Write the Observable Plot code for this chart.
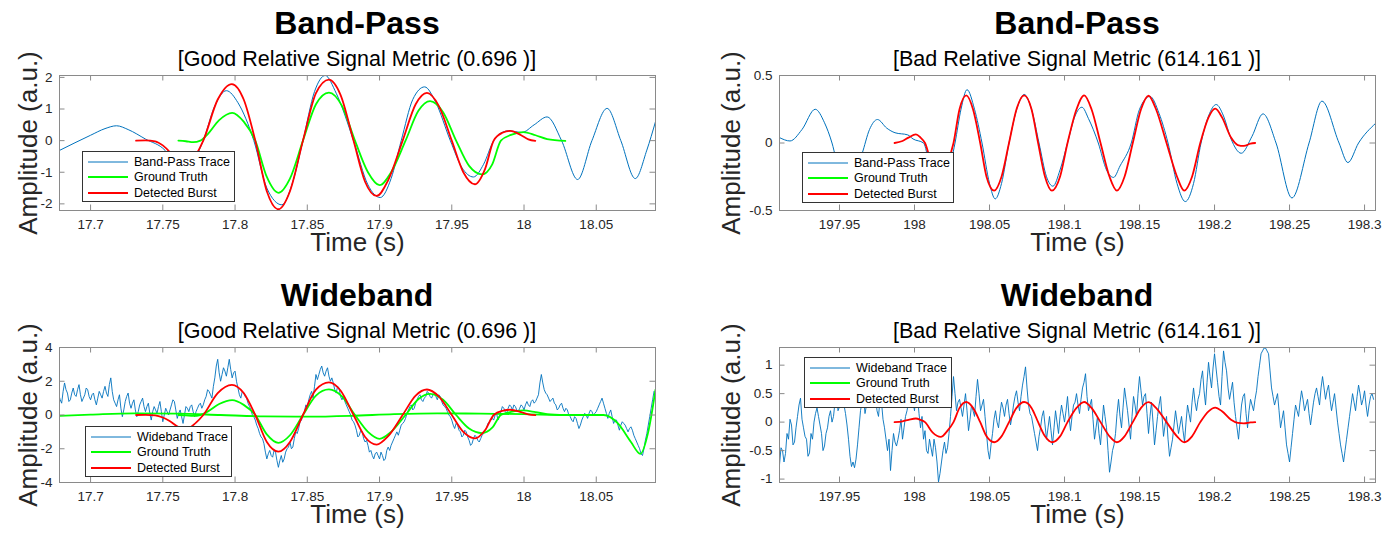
<!DOCTYPE html>
<html>
<head>
<meta charset="utf-8">
<script src="https://cdn.jsdelivr.net/npm/d3@7"></script>
<script src="https://cdn.jsdelivr.net/npm/@observablehq/plot@0.6"></script>
<style>
  body { margin: 0; background: #fff; width: 1397px; height: 541px; position: relative; overflow: hidden;
         font-family: "Liberation Sans", Arial, Helvetica, sans-serif; color: #000; }
  .panel { position: absolute; }
  .panel svg { overflow: visible; }
  .title { position: absolute; font-weight: bold; font-size: 32px; transform: translate(-50%, -50%); white-space: nowrap; }
  .sub { position: absolute; font-size: 21.5px; transform: translate(-50%, -50%); white-space: nowrap; }
  .legend { position: absolute; background: #fff; border: 1px solid #333; box-sizing: border-box; font-size: 12.5px; color: #000; }
  .legend .row { position: absolute; left: 0; height: 14px; white-space: nowrap; }
  .legend .row svg { position: absolute; left: 5px; top: 0; }
  .legend .row span { position: absolute; left: 51px; top: 0; line-height: 14px; }
</style>
</head>
<body>
<script>
// ---------- shared axis settings ----------
const leftTicksX  = [17.7, 17.75, 17.8, 17.85, 17.9, 17.95, 18, 18.05];
const rightTicksX = [197.95, 198, 198.05, 198.1, 198.15, 198.2, 198.25, 198.3];
const leftDomainX  = [17.6785, 18.091];
const rightDomainX = [197.91, 198.3073];

const bpGoodTicksY = [-2, -1, 0, 1, 2];
const bpBadTicksY  = [-0.5, 0, 0.5];
const wbGoodTicksY = [-4, -2, 0, 2, 4];
const wbBadTicksY  = [-1, -0.5, 0, 0.5, 1];

const bpGoodDomainY = [-2.21, 2.06];
const bpBadDomainY  = [-0.5, 0.5];
const wbGoodDomainY = [-4, 4];
const wbBadDomainY  = [-1.06, 1.31];

const titles    = ["Band-Pass", "Band-Pass", "Wideband", "Wideband"];
const subtitles = ["[Good Relative Signal Metric (0.696 )]", "[Bad Relative Signal Metric (614.161 )]",
                   "[Good Relative Signal Metric (0.696 )]", "[Bad Relative Signal Metric (614.161 )]"];
const legendBand = ["Band-Pass Trace", "Ground Truth", "Detected Burst"];
const legendWide = ["Wideband Trace", "Ground Truth", "Detected Burst"];

// ---------- band-pass trace, good burst (time s, amplitude) ----------
const bpGoodTrace = [
  [17.6785,-0.31],[17.700,0.17],[17.710,0.38],[17.718,0.47],[17.726,0.35],[17.738,0.05],[17.7516,-0.31],
  [17.759,-0.75],[17.765,-0.95],[17.771,-0.7],[17.7745,-0.37],[17.778,0],[17.786,1.1],[17.794,1.58],
  [17.802,1.2],[17.813,0],[17.822,-1.5],[17.8324,-2.03],[17.840,-1.3],[17.847,0],[17.855,1.55],
  [17.8624,2.06],[17.870,1.5],[17.882,0],[17.892,-1.4],[17.9005,-1.80],[17.908,-1.2],[17.915,0],
  [17.923,1.3],[17.9312,1.70],[17.939,1.2],[17.949,0],[17.957,-0.85],[17.965,-1.15],[17.972,-0.75],
  [17.979,0],[17.984,0.24],[17.9894,0.31],[17.9986,0.26],[18.007,0.5],[18.016,0.75],[18.026,0],
  [18.0371,-1.23],[18.047,0],[18.0575,1.02],[18.067,0],[18.077,-1.2],[18.085,-0.3],[18.091,0.6]
];
// ground-truth burst (good case)
const gtBurst = [
  [17.7608,0],[17.766,-0.02],[17.771,-0.05],[17.776,0],[17.781,0.2],[17.789,0.65],[17.798,0.88],
  [17.806,0.6],[17.814,0],[17.822,-1.15],[17.830,-1.65],[17.838,-1.2],[17.847,0],[17.856,1.15],
  [17.865,1.52],[17.874,1.1],[17.883,0],[17.892,-1.0],[17.900,-1.41],[17.908,-1.0],[17.918,0],
  [17.927,0.95],[17.935,1.25],[17.944,0.9],[17.953,0],[17.962,-0.8],[17.971,-1.07],[17.978,-0.75],
  [17.984,0],[17.991,0.18],[17.9995,0.27],[18.008,0.17],[18.016,0.05],[18.0286,-0.01]
];
// detected burst (good case)
const detGood = [
  [17.7315,0],[17.738,0.01],[17.7447,-0.02],[17.750,-0.15],[17.755,-0.37],[17.761,-0.72],[17.767,-0.8],
  [17.773,-0.45],[17.778,0],[17.788,1.3],[17.7978,1.79],[17.806,1.3],[17.814,0],[17.822,-1.6],
  [17.830,-2.17],[17.838,-1.6],[17.847,0],[17.856,1.5],[17.865,1.93],[17.873,1.45],[17.882,0],
  [17.890,-1.3],[17.898,-1.75],[17.906,-1.25],[17.916,0],[17.925,1.15],[17.9328,1.51],[17.941,1.1],
  [17.950,0],[17.958,-1.0],[17.966,-1.38],[17.973,-0.9],[17.979,0],[17.985,0.25],[17.9905,0.31],
  [17.998,0.17],[18.003,0.04],[18.0078,-0.01]
];

// ---------- band-pass trace, bad burst ----------
const bpBadTrace = [
  [197.91,0.04],[197.917,0.015],[197.925,0.1],[197.9338,0.25],[197.940,0.15],[197.945,0],[197.950,-0.22],
  [197.955,-0.3],[197.960,-0.22],[197.965,-0.08],[197.970,0.1],[197.9753,0.174],[197.9815,0.11],
  [197.987,0.076],[197.9955,0.06],[197.999,0.03],[198.006,0],[198.012,-0.28],[198.0175,-0.38],
  [198.022,-0.25],[198.027,0],[198.031,0.25],[198.035,0.395],[198.040,0.25],[198.045,0],[198.050,-0.3],
  [198.0538,-0.414],[198.058,-0.3],[198.063,0],[198.069,0.28],[198.0731,0.36],[198.078,0.25],[198.083,0],
  [198.088,-0.25],[198.0923,-0.32],[198.097,-0.2],[198.102,0],[198.107,0.2],[198.1116,0.265],[198.116,0.18],
  [198.1225,0],[198.128,-0.2],[198.1327,-0.255],[198.137,-0.17],[198.1445,0],[198.150,0.25],[198.157,0.345],
  [198.163,0.22],[198.169,0],[198.175,-0.3],[198.1805,-0.434],[198.186,-0.3],[198.191,0],[198.196,0.2],
  [198.2011,0.285],[198.206,0.2],[198.211,0.03],[198.2178,-0.076],[198.225,0.05],[198.2323,0.216],
  [198.241,0],[198.2516,-0.407],[198.263,0],[198.2716,0.31],[198.283,0],[198.2889,-0.145],[198.296,0],
  [198.3073,0.145]
];
// detected burst (bad case)
const detBad = [
  [197.9867,0],[197.992,0.015],[197.996,0.04],[198.0009,0.064],[198.004,0.04],[198.007,0],[198.012,-0.18],
  [198.0175,-0.26],[198.022,-0.15],[198.026,0],[198.030,0.25],[198.0345,0.353],[198.039,0.25],[198.0438,0],
  [198.048,-0.25],[198.0531,-0.353],[198.058,-0.25],[198.063,0],[198.068,0.25],[198.0731,0.353],[198.078,0.25],
  [198.0824,0],[198.087,-0.25],[198.0916,-0.353],[198.097,-0.25],[198.102,0],[198.108,0.25],[198.1131,0.353],
  [198.118,0.25],[198.124,0],[198.130,-0.25],[198.1349,-0.353],[198.140,-0.25],[198.1455,0],[198.151,0.25],
  [198.156,0.35],[198.161,0.25],[198.168,0],[198.175,-0.25],[198.1798,-0.353],[198.185,-0.25],[198.1905,0],
  [198.196,0.19],[198.2005,0.255],[198.205,0.19],[198.211,0.04],[198.2155,-0.015],[198.2195,-0.022],
  [198.224,-0.005],[198.2271,0]
];

// ---------- wideband traces (sampled every 1 ms) ----------
const wbGoodStart = 17.678, wbBadStart = 197.910, wbStep = 0.001;
const wbGoodValues = [
  1.2, 0.9, 0.7, 1.4, 1.9, 1.5, 1.3, 0.8, 0.9, 1.3, 1.6, 1.2, 1.1, 1.5, 1.8, 1.2, 0.8, 1.0, 1.2, 1.6,
  1.5, 1.1, 0.9, 1.2, 1.3, 0.9, 0.6, 1.0, 1.4, 1.2, 1.0, 1.4, 1.7, 1.3, 1.1, 1.8, 2.2, 1.4, 0.9, 0.7,
  0.5, 0.9, 1.2, 0.4, -0.1, 0.3, 0.8, 1.1, 1.3, 0.7, 0.4, 0.7, 0.9, 0.3, -0.1, 0.2, 0.6, 0.8, 1.0, 0.5,
  0.2, 0.5, 0.7, 0.1, -0.3, 0.2, 0.5, 0.3, 0.1, 0.5, 0.8, 0.2, -0.4, 0.0, 0.4, 0.2, 0.0, 0.3, 0.6, 0.9,
  0.8, 0.3, -0.2, 0.1, 0.3, -0.1, -0.5, 0.0, 0.5, 0.4, 0.2, 0.5, 0.6, 0.2, -0.1, 0.2, 0.4, 0.6, 0.7, 0.4,
  0.6, 0.9, 1.1, 1.5, 1.4, 1.2, 1.0, 1.7, 2.2, 2.9, 3.3, 2.5, 2.0, 2.4, 2.8, 2.6, 2.3, 2.8, 3.3, 2.7,
  2.2, 2.5, 2.6, 2.0, 1.6, 1.2, 1.0, 1.4, 1.3, 1.1, 1.0, 0.7, 0.5, 0.3, 0.0, -0.1, -0.3, -0.6, -0.8, -1.1,
  -1.3, -1.4, -1.7, -2.2, -2.6, -2.3, -2.1, -2.4, -2.5, -2.1, -2.2, -2.7, -3.1, -2.7, -2.4, -2.8, -2.6, -2.2, -2.0, -1.9,
  -1.6, -2.0, -1.9, -1.4, -1.0, -1.1, -0.8, -0.4, -0.3, 0.0, 0.2, 0.6, 0.5, 0.9, 1.2, 1.4, 1.0, 1.7, 2.4, 2.1,
  2.4, 2.7, 2.9, 2.5, 2.3, 2.6, 2.8, 2.3, 2.0, 2.2, 1.9, 1.5, 1.3, 1.7, 1.6, 1.1, 0.9, 1.1, 0.8, 0.6,
  0.4, 0.2, 0.0, -0.3, -0.4, -0.6, -0.9, -1.3, -1.2, -0.9, -1.0, -1.4, -1.6, -1.5, -1.8, -2.2, -2.1, -2.4, -2.6, -2.3,
  -2.2, -2.4, -2.6, -2.2, -2.4, -2.7, -2.6, -2.1, -1.9, -2.1, -1.8, -1.6, -1.4, -1.2, -1.0, -1.2, -0.9, -0.6, -0.5, -0.4,
  -0.2, 0.1, 0.3, 0.5, 0.6, 0.3, 0.4, 0.7, 0.9, 1.1, 1.2, 0.9, 0.8, 1.0, 1.1, 1.4, 1.3, 1.1, 1.0, 1.2,
  1.3, 1.1, 0.9, 1.2, 1.1, 0.8, 0.6, 0.5, 0.4, 0.2, 0.0, -0.1, -0.3, -0.6, -0.8, -0.5, -0.6, -0.9, -1.0, -1.3,
  -1.2, -0.9, -1.0, -1.3, -1.5, -1.8, -1.7, -1.4, -1.2, -1.3, -1.5, -1.6, -1.4, -1.2, -1.1, -0.9, -0.8, -0.5, -0.4, -0.3,
  -0.2, -0.3, 0.0, 0.1, -0.3, -0.1, 0.2, 0.5, 0.4, 0.2, 0.1, 0.4, 0.6, 0.5, 0.3, 0.6, 0.5, 0.3, 0.2, 0.4,
  0.6, 0.5, 0.3, 0.6, 0.8, 0.6, 0.5, 0.8, 0.9, 0.7, 0.8, 1.0, 1.2, 1.9, 2.4, 1.9, 1.5, 1.3, 1.2, 1.0,
  0.8, 0.9, 1.0, 0.7, 0.6, 0.3, 0.4, 0.6, 0.7, 0.4, 0.2, 0.4, 0.3, 0.0, -0.1, -0.3, -0.4, -0.1, -0.2, -0.5,
  -0.8, -0.6, -0.3, -0.1, 0.1, 0.0, -0.2, 0.1, 0.3, 0.2, 0.0, 0.1, 0.2, 0.4, 0.6, 0.8, 1.0, 0.7, 0.4, 0.1,
  -0.2, 0.1, 0.3, -0.1, -0.5, -0.3, -0.3, -0.6, -0.9, -0.6, -0.4, -0.5, -0.6, -0.8, -1.0, -0.8, -0.7, -0.9, -1.2, -1.4,
  -1.6, -1.8, -2.0, -2.3, -2.4, -2.0, -1.5, -1.1, -0.6, -0.1, 0.4, 0.9, 1.4
];
const wbBadValues = [
  -0.75, -0.45, -0.5, -0.7, -0.55, -0.2, -0.3, 0.05, -0.05, -0.4, -0.35, -0.1, 0.1, 0.3, 0.42, 0.05, -0.1, -0.25, -0.3, -0.6,
  -0.54, -0.2, -0.3, 0.0, 0.15, 0.25, 0.1, -0.05, -0.2, -0.5, -0.42, -0.2, -0.1, 0.1, 0.2, 0.0, 0.1, 0.35, 0.5, 0.2,
  0.27, 0.45, 0.4, 0.3, 0.15, -0.05, -0.3, -0.6, -0.78, -0.7, -0.8, -0.65, -0.4, -0.1, 0.2, 0.35, 0.45, 0.15, 0.3, 0.55,
  0.5, 0.35, 0.25, 0.6, 0.45, 0.2, 0.1, 0.4, 0.35, 0.05, -0.1, -0.3, -0.5, -0.3, -0.85, -0.5, -0.2, -0.35, -0.42, -0.3,
  -0.15, 0.05, -0.3, -0.1, 0.1, 0.2, 0.35, 0.7, 0.6, 0.35, 0.2, 0.5, 0.45, 0.15, -0.1, 0.1, -0.3, -0.15, -0.5, -0.55,
  -0.3, -0.45, -0.6, -0.3, -0.45, -0.7, -1.05, -0.9, -0.7, -0.5, -0.35, -0.55, -0.45, -0.2, 0.1, 0.45, 0.8, 0.5, 0.2, 0.35,
  0.4, 0.25, 0.1, 0.3, 0.5, 0.2, -0.15, 0.05, 0.3, 0.2, 0.1, 0.45, 0.75, 0.5, 0.2, 0.3, 0.4, 0.1, -0.2, -0.5,
  -0.65, -0.4, -0.2, 0.05, 0.2, 0.0, -0.1, 0.15, 0.35, 0.25, 0.1, 0.3, 0.4, 0.15, -0.05, 0.1, 0.3, 0.45, 0.55, 0.35,
  0.2, 0.45, 0.65, 0.8, 0.97, 0.6, 0.3, 0.15, 0.1, -0.05, -0.2, -0.35, -0.5, -0.25, -0.1, 0.1, 0.2, -0.05, -0.3, -0.1,
  0.1, -0.15, -0.4, -0.1, 0.2, 0.0, -0.2, 0.1, 0.3, 0.15, 0.0, 0.2, 0.45, 0.1, -0.15, 0.1, 0.3, 0.35, 0.5, 0.3,
  0.15, 0.4, 0.6, 0.7, 0.85, 0.45, 0.2, 0.3, 0.4, 0.05, -0.3, -0.1, 0.1, -0.2, -0.4, -0.05, 0.3, 0.1, -0.1, -0.5,
  -0.88, -0.7, -0.5, -0.4, -0.2, 0.15, 0.4, 0.1, -0.1, 0.25, 0.6, 0.4, 0.2, -0.05, -0.3, 0.1, 0.45, 0.3, 0.1, 0.5,
  0.8, 0.55, 0.3, 0.45, 0.5, 0.15, -0.2, 0.1, 0.35, 0.0, -0.4, -0.15, 0.1, 0.3, 0.45, 0.1, -0.25, -0.05, 0.1, -0.3,
  -0.6, -0.45, -0.3, -0.05, 0.2, 0.0, -0.2, -0.05, 0.1, -0.15, -0.35, 0.0, 0.3, 0.15, 0.0, 0.35, 0.6, 0.35, 0.2, 0.4,
  0.5, 0.75, 0.9, 0.55, 0.3, 0.7, 1.05, 0.8, 0.6, 0.95, 1.2, 0.95, 0.7, 0.45, 0.3, 0.8, 1.25, 1.05, 0.9, 0.6,
  0.4, 0.55, 0.7, 0.35, 0.1, -0.1, -0.3, 0.0, 0.3, 0.45, 0.5, 0.15, -0.1, 0.2, 0.4, 0.3, 0.2, 0.4, 0.55, 0.8,
  1.0, 1.2, 1.25, 1.3, 1.3, 1.25, 1.2, 0.9, 0.6, 0.45, 0.3, 0.4, 0.5, 0.2, -0.1, 0.05, 0.2, -0.1, -0.4, -0.55,
  -0.7, -0.45, -0.2, 0.05, 0.3, 0.2, 0.1, 0.35, 0.55, 0.4, 0.2, 0.3, 0.4, 0.15, -0.05, 0.15, 0.35, 0.5, 0.6, 0.45,
  0.3, 0.6, 0.8, 0.6, 0.4, 0.55, 0.65, 0.4, 0.2, 0.35, 0.5, 0.25, 0.0, -0.2, -0.4, -0.55, -0.7, -0.5, -0.3, -0.1,
  0.1, 0.3, 0.5, 0.35, 0.2, 0.45, 0.65, 0.5, 0.3, 0.4, 0.55, 0.3, 0.1, 0.3, 0.45, 0.5, 0.4
];
// ground truth over the whole wideband window (good case)
const gtWide = [
  [17.6785,-0.05],[17.700,0.02],[17.730,0.1],[17.760,0.08],[17.790,0.0],[17.820,-0.08],[17.850,-0.1],
  [17.880,-0.05],[17.910,0.05],[17.940,0.1],[17.970,0.08],[18.000,0.05],[18.030,0.0],[18.055,0.0],
  [18.065,-0.5],[18.074,-1.6],[18.0805,-2.3],[18.086,-1.0],[18.091,1.5]
];

// ---------- styling ----------
const BLUE = "#0072BD", GREEN = "#00FF00", RED = "#FF0000", AXIS = "#8a8a8a", INK = "#262626";
const H = 270, MT = 75, MB = 60;

const toPts = arr => arr.map(([t, v]) => ({t, v}));
const sampled = (start, values) => values.map((v, i) => ({t: start + i * wbStep, v}));
const fmt = d => String(+d.toFixed(4));

function panel(o) {
  const fw = o.width - o.ml - o.mr, fh = H - MT - MB;
  const marks = [
    ...o.series.map(s => Plot.line(s.data, {x: "t", y: "v", stroke: s.color, strokeWidth: s.w,
                                            curve: s.curve || "linear", clip: true})),
    Plot.frame({stroke: AXIS}),
    Plot.tickX(o.xTicks, {x: d => d, insetTop: fh - 5.5, stroke: AXIS}),
    Plot.tickX(o.xTicks, {x: d => d, insetBottom: fh - 5.5, stroke: AXIS}),
    Plot.tickY(o.yTicks, {y: d => d, insetRight: fw - 5.5, stroke: AXIS}),
    Plot.tickY(o.yTicks, {y: d => d, insetLeft: fw - 5.5, stroke: AXIS}),
    Plot.axisX(o.xTicks, {tickSize: 0, tickPadding: 9, tickFormat: fmt, fontSize: 13.5, label: null, fill: INK}),
    Plot.axisY(o.yTicks, {tickSize: 0, tickPadding: 7, tickFormat: fmt, fontSize: 13.5, label: null, fill: INK}),
    Plot.text(["Time (s)"], {text: d => d, frameAnchor: "bottom", dy: 40, fontSize: 26, fill: INK}),
    Plot.text(["Amplitude (a.u.)"], {text: d => d, frameAnchor: "left", textAnchor: "middle", dx: o.ylabDx,
                                     rotate: -90, fontSize: 26, fill: INK})
  ];
  const svg = Plot.plot({
    width: o.width, height: H, marginTop: MT, marginBottom: MB, marginLeft: o.ml, marginRight: o.mr,
    x: {domain: o.xDomain}, y: {domain: o.yDomain},
    style: {fontFamily: "'Liberation Sans', Arial, Helvetica, sans-serif", background: "transparent", overflow: "visible"},
    marks
  });
  const div = document.createElement("div");
  div.className = "panel";
  div.style.left = o.left + "px";
  div.style.top = o.top + "px";
  div.appendChild(svg);
  document.body.appendChild(div);

  const cx = o.left + o.ml + fw / 2;
  const t = document.createElement("div");
  t.className = "title"; t.textContent = o.title;
  t.style.left = cx + "px"; t.style.top = (o.top + 23) + "px";
  document.body.appendChild(t);
  const s = document.createElement("div");
  s.className = "sub"; s.textContent = o.subtitle;
  s.style.left = cx + "px"; s.style.top = (o.top + 59) + "px";
  document.body.appendChild(s);

  // legend box
  const lg = document.createElement("div");
  lg.className = "legend";
  Object.assign(lg.style, {left: o.legend.x + "px", top: o.legend.y + "px", width: o.legend.w + "px", height: "51px"});
  const styles = [[BLUE, 1], [GREEN, 2], [RED, 2]];
  o.legend.labels.forEach((label, i) => {
    const row = document.createElement("div");
    row.className = "row";
    row.style.top = (3 + i * 15.3) + "px";
    row.innerHTML = `<svg width="42" height="14"><line x1="0" x2="40" y1="7" y2="7" stroke="${styles[i][0]}" stroke-width="${styles[i][1]}"/></svg><span>${label}</span>`;
    lg.appendChild(row);
  });
  document.body.appendChild(lg);
}

// top-left: band-pass, good
panel({
  left: 0, top: 0, width: 698, ml: 59, mr: 43, ylabDx: -31,
  xDomain: leftDomainX, yDomain: bpGoodDomainY, xTicks: leftTicksX, yTicks: bpGoodTicksY,
  title: titles[0], subtitle: subtitles[0],
  series: [
    {data: toPts(bpGoodTrace), color: BLUE, w: 1, curve: "monotone-x"},
    {data: toPts(gtBurst), color: GREEN, w: 1.8, curve: "monotone-x"},
    {data: toPts(detGood), color: RED, w: 1.8, curve: "monotone-x"}
  ],
  legend: {x: 82, y: 151, w: 153, labels: legendBand}
});

// top-right: band-pass, bad
panel({
  left: 698, top: 0, width: 699, ml: 81, mr: 22, ylabDx: -48,
  xDomain: rightDomainX, yDomain: bpBadDomainY, xTicks: rightTicksX, yTicks: bpBadTicksY,
  title: titles[1], subtitle: subtitles[1],
  series: [
    {data: toPts(bpBadTrace), color: BLUE, w: 1, curve: "monotone-x"},
    {data: toPts(detBad), color: RED, w: 1.8, curve: "monotone-x"}
  ],
  legend: {x: 802, y: 152, w: 152, labels: legendBand}
});

// bottom-left: wideband, good
panel({
  left: 0, top: 272, width: 698, ml: 59, mr: 43, ylabDx: -31,
  xDomain: leftDomainX, yDomain: wbGoodDomainY, xTicks: leftTicksX, yTicks: wbGoodTicksY,
  title: titles[2], subtitle: subtitles[2],
  series: [
    {data: sampled(wbGoodStart, wbGoodValues), color: BLUE, w: 0.9},
    {data: toPts(gtWide), color: GREEN, w: 1.8, curve: "monotone-x"},
    {data: toPts(gtBurst), color: GREEN, w: 1.8, curve: "monotone-x"},
    {data: toPts(detGood), color: RED, w: 1.8, curve: "monotone-x"}
  ],
  legend: {x: 85, y: 426, w: 147, labels: legendWide}
});

// bottom-right: wideband, bad
panel({
  left: 698, top: 272, width: 699, ml: 81, mr: 22, ylabDx: -48,
  xDomain: rightDomainX, yDomain: wbBadDomainY, xTicks: rightTicksX, yTicks: wbBadTicksY,
  title: titles[3], subtitle: subtitles[3],
  series: [
    {data: sampled(wbBadStart, wbBadValues), color: BLUE, w: 0.9},
    {data: toPts(detBad), color: RED, w: 1.8, curve: "monotone-x"}
  ],
  legend: {x: 804, y: 357, w: 148, labels: legendWide}
});
</script>
</body>
</html>
